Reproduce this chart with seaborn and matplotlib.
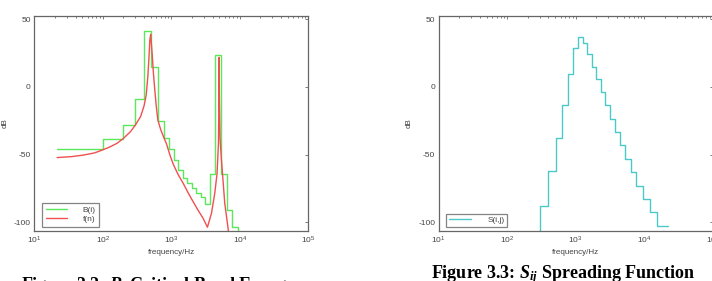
import numpy as np
import pandas as pd
import matplotlib
matplotlib.use("Agg")
import matplotlib.pyplot as plt
import seaborn as sns
from matplotlib.ticker import LogLocator, FixedLocator

sns.set_theme(style="white")
plt.rcParams['font.family'] = ['Liberation Sans', 'DejaVu Sans']
plt.rcParams['axes.unicode_minus'] = False
plt.rcParams['mathtext.fontset'] = 'custom'
plt.rcParams['mathtext.rm'] = 'Liberation Serif:bold'
plt.rcParams['mathtext.it'] = 'Liberation Serif:italic:bold'
plt.rcParams['mathtext.bf'] = 'Liberation Serif:bold'

# ---------------- data ----------------
# Figure 3.2: critical band energy B(i) (step levels per band, dB)
b_edges = [21.5, 100, 200, 300, 400, 510, 630, 770, 920, 1080, 1270, 1480,
           1720, 2000, 2320, 2700, 3150, 3700, 4400, 5300, 6400, 7700, 9500, 12000]
b_levels = [-45.5, -38.5, -28.2, -9.1, 41.6, 14.8, -24.9, -37.9, -45.5, -54.0,
            -61.3, -67.5, -70.7, -74.9, -78.6, -81.5, -86.7, -64.5, 23.6, -64.5,
            -91.0, -103.7, -140.0]

# Spectrum f(n) (frequency in Hz, level in dB)
f_freq = [21.5, 35, 53, 75, 93, 125, 162, 200, 254, 300, 356, 400, 430, 454,
          470, 486, 500, 510, 525, 545, 569, 600, 636, 700, 780, 850, 950, 1065,
          1250, 1490, 1750, 2080, 2450, 2910, 3370, 3860, 4310, 4660, 4880, 4960,
          5000, 5040, 5150, 5400, 6030, 6740, 7300]
f_db = [-52.2, -51.5, -50.3, -48.8, -47.1, -44.5, -41.6, -38.0, -33.0, -28.0,
        -21.9, -14.0, -6.0, 7.6, 20.0, 34.7, 39.0, 33.0, 24.9, 12.0, 0.2, -13.0,
        -24.4, -31.5, -37.5, -42.0, -50.0, -57.0, -64.5, -71.2, -78.0, -84.8,
        -91.0, -97.1, -103.7, -93.4, -78.6, -63.8, -41.6, -8.0, 22.0, -8.0,
        -38.0, -54.0, -86.0, -104.4, -122.0]

# Figure 3.3: spreading function S(i,j) (step levels per band, dB)
s_edges = [280, 300, 400, 510, 630, 770, 920, 1080, 1270, 1480, 1720, 2000,
           2320, 2700, 3150, 3700, 4400, 5300, 6400, 7700, 9500, 12000, 15500, 22050]
s_levels = [-130.0, -87.7, -62.3, -37.7, -13.5, 9.4, 29.1, 37.2, 32.3, 24.1,
            15.0, 5.9, -3.9, -13.5, -23.6, -33.5, -43.1, -53.0, -63.0, -72.9,
            -82.8, -92.6, -103.0]

GREEN = '#5be85b'
RED = '#f05050'
CYAN = '#4cc8c8'
SPINE = '#666666'
TXT = '#444444'

W, H = 712, 281
fig = plt.figure(figsize=(W / 100, H / 100), dpi=100)


def style_axes(ax):
    ax.set_xscale('log')
    ax.set_xlim(10, 1e5)
    ax.set_ylim(-106.5, 52.5)
    ax.yaxis.set_major_locator(FixedLocator([-100, -50, 0, 50]))
    ax.xaxis.set_major_locator(LogLocator(base=10, numticks=10))
    ax.xaxis.set_minor_locator(LogLocator(base=10, subs=np.arange(2, 10), numticks=20))
    ax.tick_params(which='both', direction='in', top=True, right=True,
                   labelsize=6, labelcolor=TXT, color=SPINE, width=0.6, pad=2.5)
    ax.tick_params(which='major', length=2.5)
    ax.tick_params(which='minor', length=1.5)
    for s in ax.spines.values():
        s.set_color(SPINE)
        s.set_linewidth(0.9)
    ax.set_xlabel('frequency/Hz', fontsize=5.8, color=TXT, labelpad=2)
    ax.set_ylabel('dB', fontsize=5.8, color=TXT, labelpad=4)
    ax.grid(False)


def step_frame(edges, levels):
    x = list(edges)
    y = list(levels) + [levels[-1]]
    return pd.DataFrame({'x': x, 'y': y})


# ---- left panel ----
ax1 = fig.add_axes([34.3 / W, (H - 231) / H, 274 / W, 215 / H])
bdf = step_frame(b_edges, b_levels)
sns.lineplot(data=bdf, x='x', y='y', ax=ax1, color=GREEN, lw=1.0,
             drawstyle='steps-post', sort=False, estimator=None, label='B(i)')
fdf = pd.DataFrame({'x': f_freq, 'y': f_db})
sns.lineplot(data=fdf, x='x', y='y', ax=ax1, color=RED, lw=1.0,
             sort=False, estimator=None, label='f(n)')
style_axes(ax1)
leg1 = ax1.legend(loc='lower left', bbox_to_anchor=(0.028, 0.02), fontsize=6,
                  frameon=True, fancybox=False, edgecolor=SPINE, handlelength=2.6,
                  handletextpad=1.8, borderpad=0.45, labelspacing=0.1,
                  borderaxespad=0)
leg1.get_frame().set_linewidth(0.9)
for t in leg1.get_texts():
    t.set_color(TXT)

# ---- right panel ----
ax2 = fig.add_axes([438.7 / W, (H - 231) / H, 274 / W, 215 / H])
sdf = step_frame(s_edges, s_levels)
sns.lineplot(data=sdf, x='x', y='y', ax=ax2, color=CYAN, lw=1.0,
             drawstyle='steps-post', sort=False, estimator=None, label='S(i,j)')
style_axes(ax2)
leg2 = ax2.legend(loc='lower left', bbox_to_anchor=(0.028, 0.02), fontsize=6,
                  frameon=True, fancybox=False, edgecolor=SPINE, handlelength=2.6,
                  handletextpad=2.0, borderpad=0.3, borderaxespad=0)
leg2.get_frame().set_linewidth(0.9)
for t in leg2.get_texts():
    t.set_color(TXT)

# ---- captions ----
fig.text(159 / W, 1 - 290 / H, r'Figure 3.2: $B_i$ Critical Band Energy',
         ha='center', va='baseline', fontsize=13, fontweight='bold',
         family='Liberation Serif', color='black')
fig.text(563.5 / W, 1 - 278.5 / H, r'Figure 3.3: $S_{ij}$ Spreading Function',
         ha='center', va='baseline', fontsize=13, fontweight='bold',
         family='Liberation Serif', color='black')

fig.savefig('out.png', dpi=100, facecolor='white')
